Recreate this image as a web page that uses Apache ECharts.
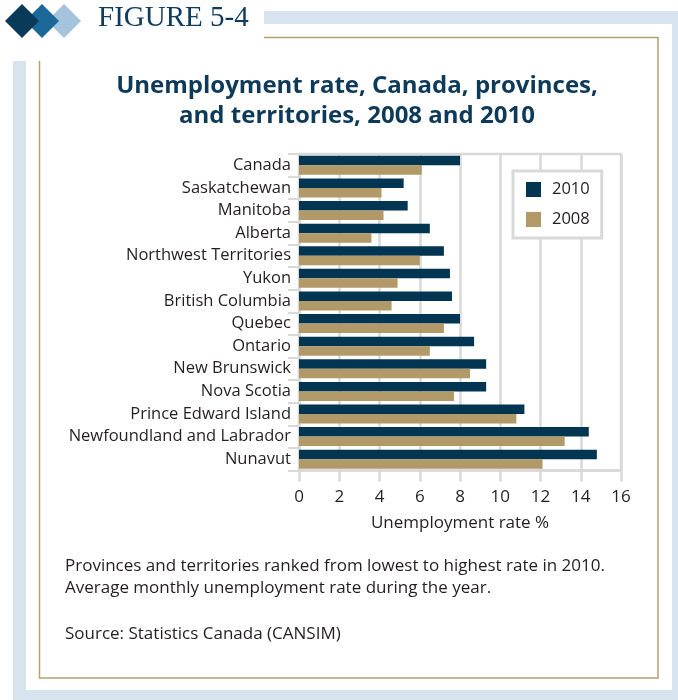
<!DOCTYPE html>
<html>
<head>
<meta charset="utf-8">
<script src="https://cdn.jsdelivr.net/npm/echarts@6/dist/echarts.min.js"></script>
<style>
html,body{margin:0;padding:0;background:#fff;}
#chart{width:678px;height:700px;}
</style>
</head>
<body>
<div id="chart"></div>
<script>
const categories = ["Canada","Saskatchewan","Manitoba","Alberta","Northwest Territories","Yukon","British Columbia","Quebec","Ontario","New Brunswick","Nova Scotia","Prince Edward Island","Newfoundland and Labrador","Nunavut"];
const values2010 = [8.0,5.2,5.4,6.5,7.2,7.5,7.6,8.0,8.7,9.3,9.3,11.2,14.4,14.8];
const values2008 = [6.1,4.1,4.2,3.6,6.0,4.9,4.6,7.2,6.5,8.5,7.7,10.8,13.2,12.1];
const xTicks = [0,2,4,6,8,10,12,14,16];

const NAVY = '#023552';
const TAN = '#b19a68';
const GRID = '#d9d9d9';
const TXT = '#231f20';
const FONT = 'Open Sans';

const chart = echarts.init(document.getElementById('chart'), null, {renderer:'canvas'});
const option = {
  animation:false,
  backgroundColor:'#ffffff',
  title:{
    text:'Unemployment rate, Canada, provinces,\nand territories, 2008 and 2010',
    left:352, top:66, textAlign:'center',
    textStyle:{fontFamily:FONT, fontWeight:700, fontSize:24, color:'#0e3a5a', lineHeight:30}
  },
  legend:{
    data:['2010','2008'],
    orient:'vertical',
    left:513, top:171,
    itemWidth:15, itemHeight:15, itemGap:13,
    icon:'rect',
    borderColor:GRID, borderWidth:3, backgroundColor:'#fff',
    padding:[10,12,10,13],
    textStyle:{fontFamily:FONT, fontSize:16.5, color:TXT, padding:[0,0,0,6]}
  },
  grid:{left:299, right:57, top:154, bottom:229.5, show:true, borderColor:GRID, borderWidth:2.5, containLabel:false},
  xAxis:{
    type:'value', min:xTicks[0], max:xTicks[xTicks.length-1], interval:2,
    name:'Unemployment rate %', nameLocation:'middle', nameGap:44,
    nameTextStyle:{fontFamily:FONT, fontSize:17, color:TXT},
    axisLine:{show:true, lineStyle:{color:GRID, width:2.5}},
    axisTick:{show:true, length:11, lineStyle:{color:GRID, width:2.5}},
    splitLine:{show:true, lineStyle:{color:GRID, width:2.5}},
    axisLabel:{fontFamily:FONT, fontSize:17, color:TXT, margin:18}
  },
  yAxis:{
    type:'category', data:categories, inverse:true,
    axisLine:{show:true, lineStyle:{color:GRID, width:2.5}},
    axisTick:{show:true, length:11, interval:0, lineStyle:{color:GRID, width:2}},
    axisLabel:{fontFamily:FONT, fontSize:16.5, color:TXT, margin:8, interval:0},
    splitLine:{show:false}
  },
  series:[
    {name:'2010', type:'bar', data:values2010, barWidth:9.5, barGap:'0%', itemStyle:{color:NAVY}},
    {name:'2008', type:'bar', data:values2008, barWidth:9.5, barGap:'0%', itemStyle:{color:TAN}}
  ],
  graphic:[
    {type:'rect', z:-10, silent:true, shape:{x:13,y:11,width:700,height:700}, style:{fill:'#d8e3f0'}},
    {type:'rect', z:-9, silent:true, shape:{x:26,y:24,width:646,height:666}, style:{fill:'#ffffff'}},
    {type:'rect', z:-8, silent:true, shape:{x:39.5,y:37.5,width:618.5,height:640.5}, style:{fill:'none', stroke:'#b8a06e', lineWidth:1.5}},
    {type:'rect', z:-7, silent:true, shape:{x:0,y:0,width:264,height:61}, style:{fill:'#ffffff'}},
    {type:'polygon', z:-6, silent:true, shape:{points:[[64,4],[81,21],[64,38],[47,21]]}, style:{fill:'#a6c3dd'}},
    {type:'polygon', z:-5, silent:true, shape:{points:[[42,4],[59,21],[42,38],[25,21]]}, style:{fill:'#1c6899'}},
    {type:'polygon', z:-4, silent:true, shape:{points:[[22,4],[39,21],[22,38],[5,21]]}, style:{fill:'#0a3a5a'}},
    {type:'text', z:-3, silent:true, x:98, y:33, style:{text:'FIGURE 5-4', font:'29px "Liberation Serif"', fill:'#0e3b5e', textVerticalAlign:'bottom'}},
    {type:'text', silent:true, x:65, y:566, style:{text:'Provinces and territories ranked from lowest to highest rate in 2010.', font:'17px "Open Sans"', fill:TXT, textVerticalAlign:'middle'}},
    {type:'text', silent:true, x:65, y:588, style:{text:'Average monthly unemployment rate during the year.', font:'17px "Open Sans"', fill:TXT, textVerticalAlign:'middle'}},
    {type:'text', silent:true, x:65, y:634, style:{text:'Source: Statistics Canada (CANSIM)', font:'17px "Open Sans"', fill:TXT, textVerticalAlign:'middle'}}
  ]
};
chart.setOption(option);
</script>
</body>
</html>
